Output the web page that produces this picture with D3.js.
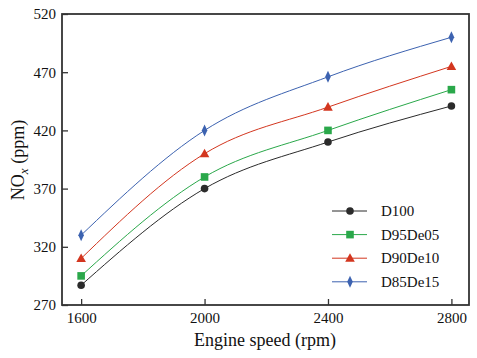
<!DOCTYPE html>
<html><head><meta charset="utf-8">
<script src="https://cdn.jsdelivr.net/npm/d3@7"></script>
<style>body{margin:0;background:#fff}svg{display:block}</style>
</head><body>
<script>
const speeds = [1600, 2000, 2400, 2800];
const xTicks = [1600, 2000, 2400, 2800];
const yTicks = [270, 320, 370, 420, 470, 520];
const seriesNames = ["D100", "D95De05", "D90De10", "D85De15"];
const D100 = [287, 370, 410, 441];
const D95De05 = [295, 380, 420, 455];
const D90De10 = [310, 400, 440, 475];
const D85De15 = [330, 420, 466, 500];
const colors = ["#2b2b2b", "#2aa84a", "#d3361f", "#3c62b0"];
const shapes = ["circle", "square", "triangle", "diamond"];
const seriesValues = [D100, D95De05, D90De10, D85De15];

const W = 477, H = 358;
const m = {l: 62, r: 8, t: 14, b: 53};
const svg = d3.select("body").append("svg").attr("width", W).attr("height", H);
const x = d3.scaleLinear().domain([1538, 2857]).range([m.l, W - m.r]);
const y = d3.scaleLinear().domain([270, 520]).range([H - m.b, m.t]);
const font = "Times New Roman, Times, Liberation Serif, serif";
const axisColor = "#333";

function marker(g, shape, color, cx, cy) {
  if (shape === "circle") g.append("circle").attr("cx", cx).attr("cy", cy).attr("r", 3.8).attr("fill", color);
  else if (shape === "square") g.append("rect").attr("x", cx - 3.8).attr("y", cy - 3.8).attr("width", 7.6).attr("height", 7.6).attr("fill", color);
  else if (shape === "triangle") g.append("path").attr("d", `M${cx},${cy-5}L${cx+4.8},${cy+3.6}L${cx-4.8},${cy+3.6}Z`).attr("fill", color);
  else g.append("path").attr("d", `M${cx},${cy-6}L${cx+2.8},${cy}L${cx},${cy+6}L${cx-2.8},${cy}Z`).attr("fill", color);
}

const line = d3.line().x(d => x(d[0])).y(d => y(d[1])).curve(d3.curveMonotoneX);
seriesValues.forEach((vals, i) => {
  const pts = speeds.map((s, j) => [s, vals[j]]);
  svg.append("path").attr("d", line(pts)).attr("fill", "none").attr("stroke", colors[i]).attr("stroke-width", 1);
  const g = svg.append("g");
  pts.forEach(p => marker(g, shapes[i], colors[i], x(p[0]), y(p[1])));
});

const xAxis = svg.append("g").attr("transform", `translate(0,${H - m.b})`)
  .call(d3.axisBottom(x).tickValues(xTicks).tickSizeInner(-6).tickSizeOuter(0).tickPadding(7).tickFormat(d3.format("d")));
const yAxis = svg.append("g").attr("transform", `translate(${m.l},0)`)
  .call(d3.axisLeft(y).tickValues(yTicks).tickSizeInner(-6).tickSizeOuter(0).tickPadding(6).tickFormat(d3.format("d")));
[xAxis, yAxis].forEach(a => {
  a.select(".domain").remove();
  a.selectAll(".tick line").attr("stroke", axisColor).attr("stroke-width", 1.3);
  a.selectAll(".tick text").attr("font-family", font).attr("font-size", 15).attr("fill", "#111");
});
svg.append("rect").attr("x", m.l).attr("y", m.t).attr("width", W - m.r - m.l).attr("height", H - m.b - m.t)
  .attr("fill", "none").attr("stroke", axisColor).attr("stroke-width", 1.8);

svg.append("text").attr("x", 265).attr("y", 346).attr("text-anchor", "middle")
  .attr("font-family", font).attr("font-size", 18).attr("fill", "#111").text("Engine speed (rpm)");
const yt = svg.append("text").attr("transform", `translate(24,160) rotate(-90)`).attr("text-anchor", "middle")
  .attr("font-family", font).attr("font-size", 18).attr("fill", "#111");
yt.append("tspan").text("NO");
yt.append("tspan").attr("font-size", 13).attr("font-style", "italic").attr("dy", 4).text("x");
yt.append("tspan").attr("dy", -4).text(" (ppm)");

const legendY0 = 211, legendDy = 23.6;
seriesNames.forEach((name, i) => {
  const ly = legendY0 + i * legendDy;
  const g = svg.append("g");
  g.append("line").attr("x1", 332).attr("x2", 367).attr("y1", ly).attr("y2", ly).attr("stroke", colors[i]).attr("stroke-width", 1);
  marker(g, shapes[i], colors[i], 350, ly);
  g.append("text").attr("x", 381).attr("y", ly + 5).attr("font-family", font).attr("font-size", 15).attr("fill", "#111").text(name);
});
</script>
</body></html>
